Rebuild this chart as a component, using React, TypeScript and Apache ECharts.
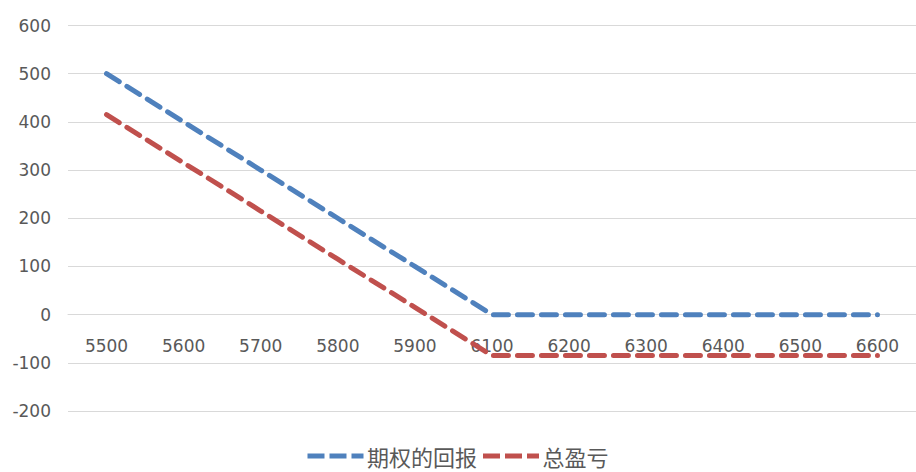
import React, { useEffect, useRef } from "react";
import * as echarts from "echarts";

const categories = ["5500", "5600", "5700", "5800", "5900", "6100", "6200", "6300", "6400", "6500", "6600"];
const optionPayoff = [500, 400, 300, 200, 100, 0, 0, 0, 0, 0, 0];
const totalPnL = [415, 315, 215, 115, 15, -85, -85, -85, -85, -85, -85];
const seriesNames = ["期权的回报", "总盈亏"];
const yMin = -200;
const yMax = 600;

const dashIcon = "path://M0,0h17v5h-17z M22,0h17v5h-17z M44,0h12v5h-12z";

export default function App() {
  const ref = useRef<HTMLDivElement>(null);
  useEffect(() => {
    if (!ref.current) return;
    const chart = echarts.init(ref.current, null, { renderer: "svg" });
    const font = "DejaVu Sans";
    const gridH = 385.5;
    const zeroOffset = -gridH * (0 - yMin) / (yMax - yMin);
    chart.setOption({
      animation: false,
      backgroundColor: "#ffffff",
      grid: { left: 68, top: 25.5, width: 852, height: gridH, containLabel: false },
      legend: {
        bottom: 0,
        left: "center",
        itemWidth: 59,
        itemHeight: 5,
        itemGap: 6,
        textStyle: { fontFamily: "Noto Sans CJK SC", fontSize: 22, color: "#595959", padding: [0, 0, 0, -3] },
        data: [
          { name: seriesNames[0], icon: dashIcon },
          { name: seriesNames[1], icon: dashIcon },
        ],
      },
      xAxis: {
        type: "category",
        data: categories,
        boundaryGap: true,
        position: "bottom",
        offset: zeroOffset,
        axisLine: { show: true, onZero: false, lineStyle: { color: "#D9D9D9", width: 1 } },
        axisTick: { show: false },
        axisLabel: { fontFamily: font, fontSize: 17, color: "#595959", margin: 23, interval: 0 },
      },
      yAxis: {
        type: "value",
        min: yMin,
        max: yMax,
        interval: 100,
        axisLine: { show: false },
        axisTick: { show: false },
        splitLine: { lineStyle: { color: "#D9D9D9", width: 1 } },
        axisLabel: { fontFamily: font, fontSize: 17, color: "#595959", margin: 17 },
      },
      series: [
        {
          name: seriesNames[0],
          type: "line",
          data: optionPayoff,
          showSymbol: false,
          symbol: "none",
          itemStyle: { color: "#4F81BD" },
          lineStyle: { color: "#4F81BD", width: 5, type: [15, 9], cap: "round" },
        },
        {
          name: seriesNames[1],
          type: "line",
          data: totalPnL,
          showSymbol: false,
          symbol: "none",
          itemStyle: { color: "#C0504D" },
          lineStyle: { color: "#C0504D", width: 5, type: [15, 9], cap: "round" },
        },
      ],
    });
    return () => chart.dispose();
  }, []);
  return <div ref={ref} style={{ position: "absolute", left: 0, top: 0, width: 916, height: 472 }} />;
}
